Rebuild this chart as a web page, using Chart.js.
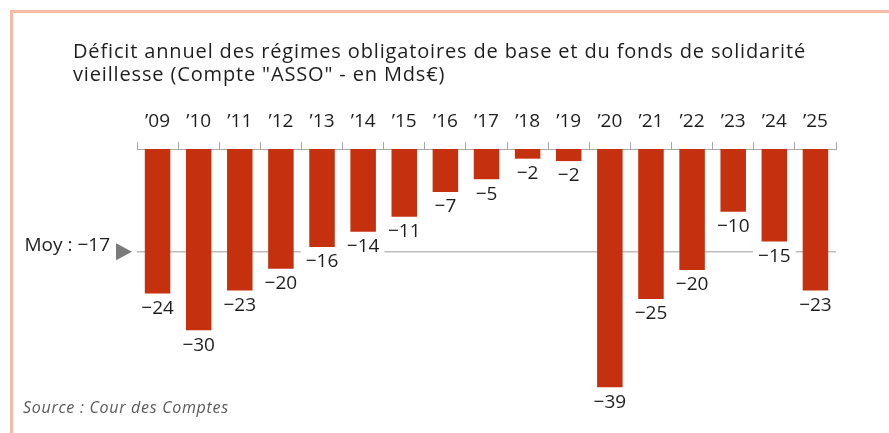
<!DOCTYPE html>
<html lang="fr">
<head>
<meta charset="utf-8">
<title>Déficit annuel ASSO</title>
<script src="https://cdn.jsdelivr.net/npm/chart.js@4.4.1/dist/chart.umd.min.js"></script>
<style>
  body { margin: 0; background: #fff; }
  #frame { position: relative; width: 889px; height: 433px; overflow: hidden; font-family: "Open Sans", sans-serif; }
  #frame::before { content: ''; position: absolute; left: 10px; top: 10px; right: -10px; bottom: -10px;
    border-left: 3px solid #f5bba8; border-top: 3px solid #f5bba8; }
  #title { position: absolute; left: 73px; top: 39px; font-size: 20px; line-height: 23px; letter-spacing: 0.85px; color: #1e1e1e; white-space: nowrap; }
  #source { position: absolute; left: 23px; top: 396px; font-size: 16px; font-style: italic; letter-spacing: 0.7px; color: #595959; }
  canvas { position: absolute; left: 0; top: 0; }
</style>
</head>
<body>
<div id="frame">
  <canvas id="chart" width="889" height="433"></canvas>
  <div id="title">Déficit annuel des régimes obligatoires de base et du fonds de solidarité<br>vieillesse (Compte "ASSO" - en Mds€)</div>
  <div id="source">Source : Cour des Comptes</div>
</div>
<script>
// annual deficit, billions of euros
const years = ['’09', '’10', '’11', '’12', '’13', '’14', '’15', '’16', '’17', '’18', '’19', '’20', '’21', '’22', '’23', '’24', '’25'];
const deficits = [-23.9, -30.0, -23.4, -19.8, -16.2, -13.7, -11.2, -7.1, -5.0, -1.6, -2.0, -39.4, -24.8, -20.0, -10.4, -15.3, -23.4];
const average = -17;
const averageLabel = 'Moy : −17';

const FONT = '"Open Sans", sans-serif';

// average line, marker and value labels under each bar
const annotations = {
    id: 'annotations',
    beforeDatasetsDraw(chart) {
        const { ctx, chartArea, scales: { y } } = chart;
        const yy = y.getPixelForValue(average);
        ctx.save();
        ctx.strokeStyle = '#bdbdbd';
        ctx.lineWidth = 1.5;
        ctx.beginPath();
        ctx.moveTo(chartArea.left, yy);
        ctx.lineTo(chartArea.right, yy);
        ctx.stroke();

        ctx.fillStyle = '#7a7a7a';
        ctx.beginPath();
        ctx.moveTo(chartArea.left - 21, yy - 8.5);
        ctx.lineTo(chartArea.left - 5, yy);
        ctx.lineTo(chartArea.left - 21, yy + 8.5);
        ctx.closePath();
        ctx.fill();

        ctx.font = '19px ' + FONT;
        ctx.fillStyle = '#1e1e1e';
        ctx.textAlign = 'right';
        ctx.textBaseline = 'middle';
        ctx.fillText(averageLabel, chartArea.left - 27, yy - 6);
        ctx.restore();
    },
    afterDatasetsDraw(chart) {
        const { ctx } = chart;
        const meta = chart.getDatasetMeta(0);
        ctx.save();
        ctx.font = '19px ' + FONT;
        ctx.textAlign = 'center';
        ctx.textBaseline = 'middle';
        meta.data.forEach((bar, i) => {
            const txt = '−' + Math.abs(Math.round(deficits[i]));
            const w = ctx.measureText(txt).width;
            const cy = bar.y + 14;
            ctx.fillStyle = '#fff';
            ctx.fillRect(bar.x - w / 2 - 5, cy - 11, w + 10, 22);
            ctx.fillStyle = '#1e1e1e';
            ctx.fillText(txt, bar.x, cy + 1);
        });
        ctx.restore();
    }
};

new Chart(document.getElementById('chart'), {
    type: 'bar',
    data: {
        labels: years,
        datasets: [{
            data: deficits,
            backgroundColor: '#c5300f',
            barPercentage: 0.62,
            categoryPercentage: 1
        }]
    },
    options: {
        responsive: false,
        animation: false,
        layout: { padding: { top: 109, left: 137, right: 53, bottom: 12 } },
        plugins: {
            legend: { display: false },
            tooltip: { enabled: false }
        },
        scales: {
            x: {
                position: 'top',
                grid: { offset: true, drawOnChartArea: false, tickLength: 7, color: '#a8a8a8' },
                border: { color: '#a8a8a8' },
                ticks: { padding: 9, color: '#1e1e1e', font: { family: FONT, size: 19 }, maxRotation: 0, autoSkip: false },
                afterFit(scale) { scale.height = 40; }
            },
            y: { display: false, min: -45, max: 0 }
        }
    },
    plugins: [annotations]
});
</script>
</body>
</html>
